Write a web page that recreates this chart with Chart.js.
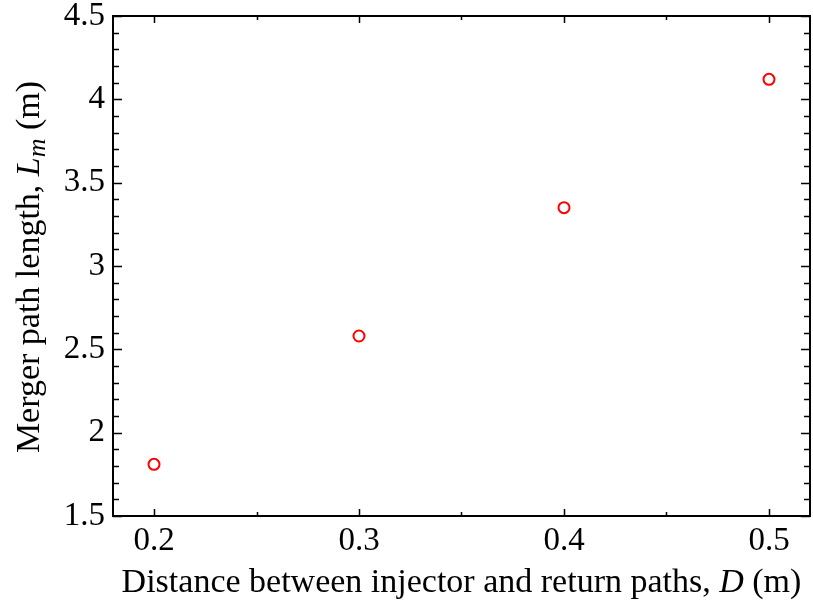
<!DOCTYPE html>
<html>
<head>
<meta charset="utf-8">
<script src="https://cdn.jsdelivr.net/npm/chart.js@4.4.1/dist/chart.umd.min.js"></script>
<style>
  html, body { margin: 0; padding: 0; background: #fff; }
  #wrap { width: 813px; height: 603px; }
</style>
</head>
<body>
<div id="wrap"><canvas id="chart"></canvas></div>
<script>
// injector/return spacing D (m) vs merger path length Lm (m)
var distances = [0.2, 0.3, 0.4, 0.5];
var pathLengths = [1.81, 2.58, 3.35, 4.12];

var X_MIN = 0.18, X_MAX = 0.52;
var Y_MIN = 1.5, Y_MAX = 4.5;

var SERIF = "'Liberation Serif', 'Times New Roman', serif";
var TICK_PX = 33;
var TITLE_PX = 34;

function isMultiple(v, step) {
  var q = v / step;
  return Math.abs(q - Math.round(q)) < 1e-6;
}

// inward ticks + box frame, drawn on all four sides
var frameTicks = {
  id: 'frameTicks',
  afterDraw: function (chart) {
    var ctx = chart.ctx;
    var a = chart.chartArea;
    var xs = chart.scales.x, ys = chart.scales.y;
    ctx.save();
    ctx.strokeStyle = '#000';
    ctx.lineWidth = 1.5;
    var v, px, len;
    for (v = 0.15; v <= X_MAX + 1e-9; v += 0.05) {
      if (v < X_MIN) continue;
      px = Math.round(xs.getPixelForValue(v)) + 0.5;
      len = isMultiple(v, 0.1) ? 7 : 4;
      ctx.beginPath();
      ctx.moveTo(px, a.bottom); ctx.lineTo(px, a.bottom - len);
      ctx.moveTo(px, a.top); ctx.lineTo(px, a.top + len);
      ctx.stroke();
    }
    for (v = Y_MIN; v <= Y_MAX + 1e-9; v += 0.1) {
      px = Math.round(ys.getPixelForValue(v)) + 0.5;
      len = isMultiple(v, 0.5) ? 9 : 6;
      ctx.beginPath();
      ctx.moveTo(a.left, px); ctx.lineTo(a.left + len, px);
      ctx.moveTo(a.right, px); ctx.lineTo(a.right - len, px);
      ctx.stroke();
    }
    ctx.lineWidth = 2;
    ctx.strokeRect(a.left, a.top, a.right - a.left, a.bottom - a.top);
    ctx.restore();
  }
};

// axis titles with italic symbols and subscript
function drawRuns(ctx, runs, x, y) {
  var total = 0, i;
  for (i = 0; i < runs.length; i++) {
    ctx.font = runs[i].font;
    total += ctx.measureText(runs[i].t).width;
  }
  var cx = x - total / 2;
  for (i = 0; i < runs.length; i++) {
    ctx.font = runs[i].font;
    ctx.fillText(runs[i].t, cx, y + (runs[i].dy || 0));
    cx += ctx.measureText(runs[i].t).width;
  }
}

var axisTitles = {
  id: 'axisTitles',
  afterDraw: function (chart) {
    var ctx = chart.ctx;
    var a = chart.chartArea;
    var norm = TITLE_PX + 'px ' + SERIF;
    var ital = 'italic ' + TITLE_PX + 'px ' + SERIF;
    var sub = 'italic ' + Math.round(TITLE_PX * 0.75) + 'px ' + SERIF;
    ctx.save();
    ctx.fillStyle = '#000';
    ctx.textBaseline = 'alphabetic';
    ctx.textAlign = 'left';
    drawRuns(ctx, [
      { t: 'Distance between injector and return paths, ', font: norm },
      { t: 'D', font: ital },
      { t: ' (m)', font: norm }
    ], (a.left + a.right) / 2, 592);
    ctx.translate(39, (a.top + a.bottom) / 2 + 1);
    ctx.rotate(-Math.PI / 2);
    drawRuns(ctx, [
      { t: 'Merger path length, ', font: norm },
      { t: 'L', font: ital },
      { t: 'm', font: sub, dy: 6 },
      { t: ' (m)', font: norm }
    ], 0, 0);
    ctx.restore();
  }
};

new Chart(document.getElementById('chart'), {
  type: 'scatter',
  data: {
    datasets: [{
      data: distances.map(function (d, i) { return { x: d, y: pathLengths[i] }; }),
      pointRadius: 5.5,
      pointHoverRadius: 5.5,
      pointBorderWidth: 2,
      pointBorderColor: '#ff0000',
      pointBackgroundColor: '#ffffff'
    }]
  },
  options: {
    responsive: true,
    maintainAspectRatio: false,
    animation: false,
    events: [],
    layout: { autoPadding: false, padding: { top: 16, right: 3, left: 0, bottom: 0 } },
    plugins: { legend: { display: false }, tooltip: { enabled: false } },
    scales: {
      x: {
        type: 'linear',
        min: X_MIN,
        max: X_MAX,
        grid: { display: false, drawTicks: false },
        border: { display: false },
        afterFit: function (s) {
          s.height = 87;
          s.paddingLeft = 0;
          s.paddingRight = 0;
        },
        ticks: {
          stepSize: 0.05,
          includeBounds: false,
          autoSkip: false,
          maxRotation: 0,
          padding: 6,
          color: '#000',
          font: { family: SERIF, size: TICK_PX },
          callback: function (v) { return isMultiple(v, 0.1) ? v.toFixed(1) : ''; }
        }
      },
      y: {
        type: 'linear',
        min: Y_MIN,
        max: Y_MAX,
        grid: { display: false, drawTicks: false },
        border: { display: false },
        afterFit: function (s) {
          s.width = 113;
          s.paddingTop = 0;
          s.paddingBottom = 0;
        },
        ticks: {
          stepSize: 0.1,
          autoSkip: false,
          padding: 8,
          color: '#000',
          font: { family: SERIF, size: TICK_PX },
          callback: function (v) {
            if (!isMultiple(v, 0.5)) return '';
            return isMultiple(v, 1) ? String(Math.round(v)) : v.toFixed(1);
          }
        }
      }
    }
  },
  plugins: [frameTicks, axisTitles]
});
</script>
</body>
</html>
